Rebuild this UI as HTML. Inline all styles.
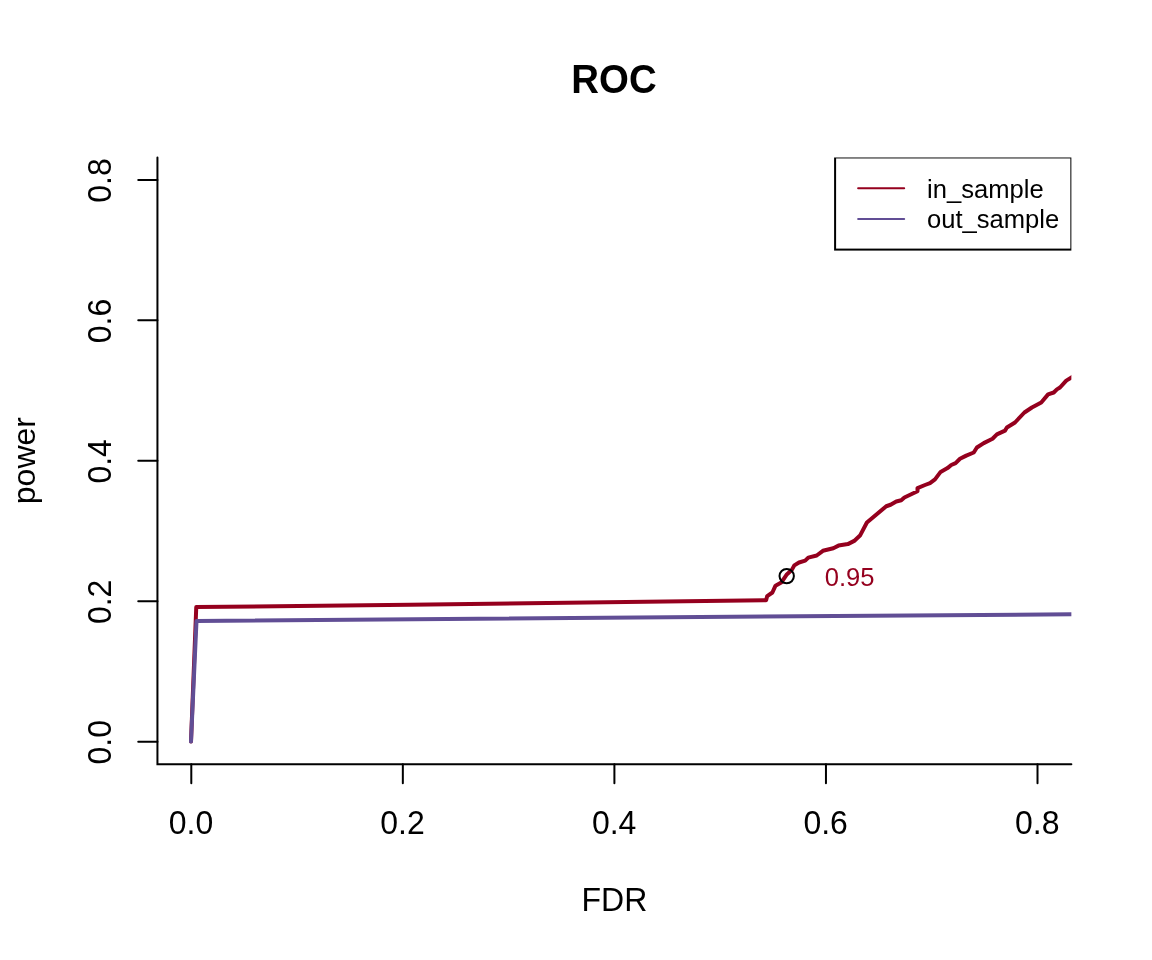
<!DOCTYPE html>
<html><head><meta charset="utf-8"><title>ROC</title>
<style>
html,body{margin:0;padding:0;background:#fff;}
svg{display:block;font-family:"Liberation Sans",Arial,Helvetica,sans-serif;}
</style></head><body>
<svg width="1152" height="960" viewBox="0 0 1152 960">
<rect width="1152" height="960" fill="#fff"/>
<defs><clipPath id="pc"><rect x="157.44" y="157.44" width="913.92" height="606.72"/></clipPath></defs>
<g clip-path="url(#pc)" fill="none" stroke-linejoin="round" stroke-linecap="round" stroke-width="4">
<polyline stroke="#95001E" points="191.00,741.50 196.25,607.10 410.00,604.70 766.10,600.30 767.20,596.10 772.40,592.50 775.50,585.70 781.25,582.60 786.50,574.80 791.70,570.10 794.30,565.40 799.00,562.50 805.20,560.70 808.30,557.60 816.70,555.50 822.90,550.80 833.30,548.20 838.50,545.60 847.90,544.10 854.20,540.90 860.00,535.60 866.90,522.50 886.25,506.25 890.60,504.75 896.25,501.50 901.25,500.25 904.40,497.50 917.50,491.25 917.50,488.10 925.00,485.00 930.00,483.10 935.00,479.40 940.60,471.90 947.50,468.10 951.25,465.00 955.60,463.10 960.00,458.80 966.25,455.60 973.75,452.50 976.90,447.50 983.75,443.10 992.50,438.75 996.90,434.40 1005.00,430.60 1006.90,427.50 1015.00,422.50 1024.40,412.50 1031.90,407.50 1041.25,402.50 1048.10,394.40 1053.75,392.50 1056.90,389.40 1060.00,387.50 1066.25,380.60 1075.00,375.40"/>
<polyline stroke="#614E95" points="191.00,741.50 196.50,620.90 1075.00,614.20"/>
</g>
<g stroke="#000" stroke-width="2" fill="none" stroke-linecap="round">
<polyline points="157.44,157.44 157.44,764.16 1071.36,764.16"/>
<line x1="191.29" y1="764.16" x2="191.29" y2="783.36"/><line x1="402.84" y1="764.16" x2="402.84" y2="783.36"/><line x1="614.40" y1="764.16" x2="614.40" y2="783.36"/><line x1="825.96" y1="764.16" x2="825.96" y2="783.36"/><line x1="1037.51" y1="764.16" x2="1037.51" y2="783.36"/>
<line x1="157.44" y1="741.69" x2="138.24" y2="741.69"/><line x1="157.44" y1="601.24" x2="138.24" y2="601.24"/><line x1="157.44" y1="460.80" x2="138.24" y2="460.80"/><line x1="157.44" y1="320.36" x2="138.24" y2="320.36"/><line x1="157.44" y1="179.91" x2="138.24" y2="179.91"/>
</g>
<g font-size="32" fill="#000">
<text transform="translate(190.99,834.40) scale(1,1.04)" text-anchor="middle">0.0</text><text transform="translate(402.54,834.40) scale(1,1.04)" text-anchor="middle">0.2</text><text transform="translate(614.10,834.40) scale(1,1.04)" text-anchor="middle">0.4</text><text transform="translate(825.66,834.40) scale(1,1.04)" text-anchor="middle">0.6</text><text transform="translate(1037.21,834.40) scale(1,1.04)" text-anchor="middle">0.8</text>
<text transform="translate(111.20,742.29) rotate(-90) scale(1,1.04)" text-anchor="middle">0.0</text><text transform="translate(111.20,601.84) rotate(-90) scale(1,1.04)" text-anchor="middle">0.2</text><text transform="translate(111.20,461.40) rotate(-90) scale(1,1.04)" text-anchor="middle">0.4</text><text transform="translate(111.20,320.96) rotate(-90) scale(1,1.04)" text-anchor="middle">0.6</text><text transform="translate(111.20,180.51) rotate(-90) scale(1,1.04)" text-anchor="middle">0.8</text>
<text transform="translate(614.40,911.30) scale(1,1.04)" text-anchor="middle">FDR</text>
<text transform="translate(34.80,460.60) rotate(-90) scale(1,1)" text-anchor="middle">power</text>
</g>
<text transform="translate(614.00,93.10) scale(1,1.04)" text-anchor="middle" font-size="38.4" font-weight="bold" fill="#000">ROC</text>
<g clip-path="url(#pc)">
<circle cx="786.7" cy="576.1" r="7.2" fill="none" stroke="#000" stroke-width="2"/>
</g>
<text transform="translate(824.70,586.00) scale(1,1.04)" text-anchor="start" font-size="25.6" fill="#95001E">0.95</text>
<g clip-path="url(#pc)">
<rect x="835.1" y="157.44" width="236.26" height="92.16" fill="#fff" stroke="#000" stroke-width="2"/>
<line x1="858.1" y1="188.16" x2="904.2" y2="188.16" stroke="#95001E" stroke-width="2" stroke-linecap="round"/>
<line x1="858.1" y1="218.88" x2="904.2" y2="218.88" stroke="#614E95" stroke-width="2" stroke-linecap="round"/>
<text transform="translate(927.00,197.70) scale(1,0.98)" text-anchor="start" font-size="25.6" fill="#000">in_sample</text>
<text transform="translate(927.00,228.40) scale(1,0.98)" text-anchor="start" font-size="25.6" fill="#000">out_sample</text>
</g>
</svg>
</body></html>
